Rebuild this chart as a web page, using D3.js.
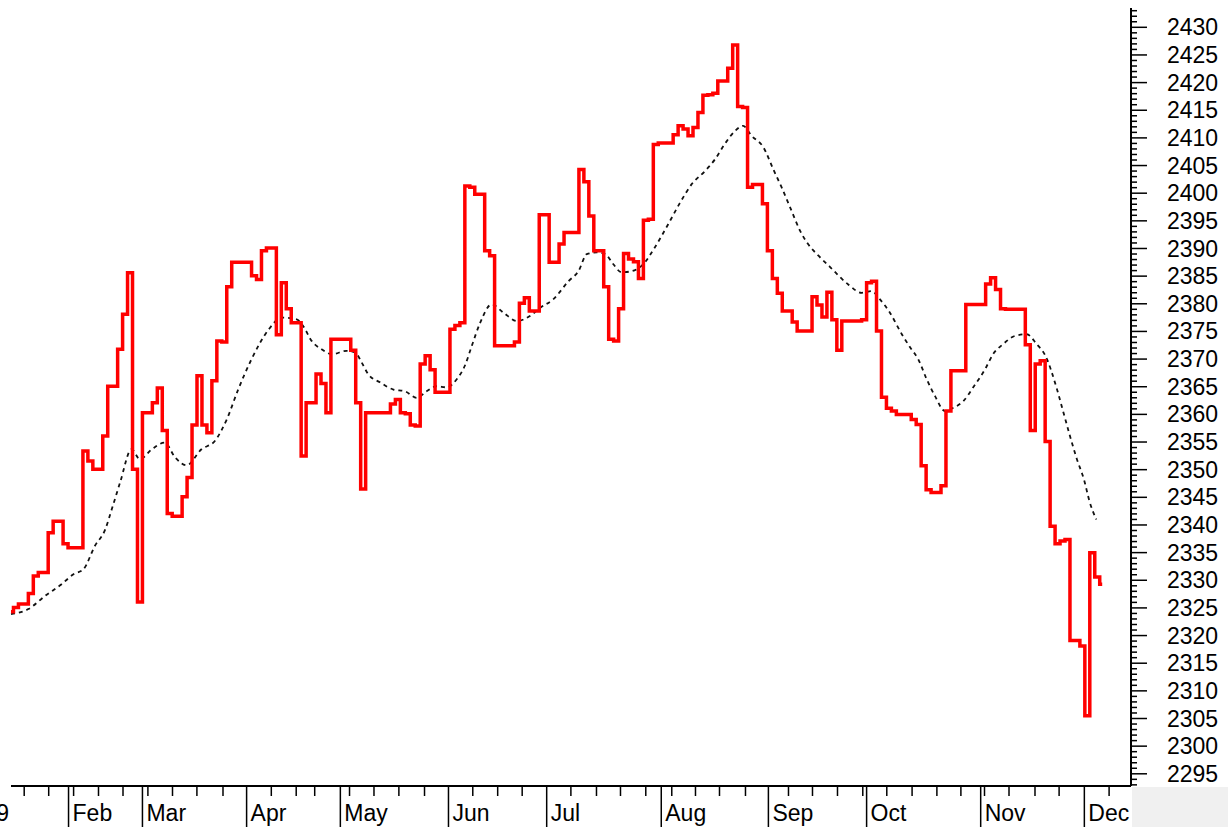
<!DOCTYPE html>
<html>
<head>
<meta charset="utf-8">
<script src="https://cdn.jsdelivr.net/npm/d3@7"></script>
<style>
	html, body { margin: 0; padding: 0; background: #fff; }
	svg { display: block; }
	text { font-family: "Liberation Sans", Arial, sans-serif; fill: #000; }
</style>
</head>
<body>
<div id="chart"></div>
<script>
// daily closes, one per trading day
var closes = [
	2324.2, 2325.0, 2325.6, 2325.6, 2327.5, 2330.7, 2331.3, 2331.3, 2338.5, 2340.6,
	2340.6, 2336.5, 2335.8, 2335.8, 2335.8, 2353.3, 2351.5, 2350.0, 2350.0, 2356.0,
	2365.0, 2365.0, 2371.7, 2378.0, 2385.5, 2350.0, 2326.0, 2360.2, 2360.2, 2362.0,
	2364.7, 2357.0, 2342.0, 2341.5, 2341.5, 2345.0, 2348.5, 2358.0, 2366.9, 2358.0,
	2356.6, 2366.0, 2373.2, 2373.0, 2383.0, 2387.4, 2387.4, 2387.4, 2387.4, 2385.0,
	2384.3, 2389.5, 2390.0, 2390.0, 2374.3, 2383.7, 2379.0, 2376.5, 2376.5, 2352.4,
	2362.0, 2362.0, 2367.2, 2365.5, 2360.2, 2373.5, 2373.5, 2373.5, 2373.5, 2371.5,
	2362.0, 2346.4, 2360.2, 2360.2, 2360.2, 2360.2, 2360.2, 2361.8, 2362.6, 2360.2,
	2360.0, 2358.0, 2357.8, 2369.0, 2370.5, 2368.0, 2363.9, 2363.9, 2363.9, 2375.3,
	2376.0, 2376.5, 2401.2, 2401.0, 2399.7, 2399.7, 2389.5, 2388.6, 2372.3, 2372.3,
	2372.3, 2372.3, 2373.0, 2380.0, 2381.0, 2378.6, 2378.6, 2396.0, 2396.0, 2387.4,
	2387.4, 2390.7, 2392.8, 2392.8, 2392.8, 2404.2, 2402.0, 2395.8, 2389.5, 2389.5,
	2383.0, 2373.5, 2373.2, 2379.0, 2389.0, 2388.0, 2387.5, 2384.5, 2395.0, 2395.2,
	2408.7, 2409.0, 2409.0, 2409.0, 2410.5, 2412.1, 2411.5, 2410.3, 2411.8, 2414.5,
	2417.6, 2417.7, 2418.0, 2420.2, 2420.2, 2422.5, 2426.7, 2415.6, 2415.4, 2401.0,
	2401.5, 2401.5, 2398.0, 2389.5, 2384.5, 2381.8, 2378.6, 2378.6, 2376.6, 2375.0,
	2375.0, 2375.0, 2381.2, 2379.7, 2377.5, 2382.0, 2377.0, 2371.5, 2376.8, 2376.8,
	2376.8, 2376.8, 2377.0, 2383.7, 2384.0, 2375.0, 2363.0, 2361.0, 2360.5, 2359.9,
	2359.9, 2359.9, 2359.0, 2358.1, 2350.6, 2346.3, 2345.8, 2345.8, 2347.0, 2360.5,
	2367.8, 2367.8, 2367.8, 2379.8, 2379.8, 2379.8, 2379.8, 2383.5, 2384.6, 2382.5,
	2379.0, 2378.9, 2378.9, 2378.9, 2378.9, 2372.5, 2357.0, 2369.0, 2369.6, 2355.0,
	2339.7, 2336.5, 2337.0, 2337.3, 2319.0, 2319.0, 2318.0, 2305.4, 2334.9, 2330.5,
	2329.2
];

// moving average (day index, value)
var avgDays = [
	0, 3.5, 6.9, 10.2, 12.6, 14.6, 16.9, 19, 20.3, 22, 24.3, 26, 28.4, 31, 33.1, 35.4,
	38.4, 41.1, 43.5, 45.8, 48.5, 51.9, 54.6, 57.6, 58.9, 60.6, 62.6, 64.7, 67.7, 69.4,
	70.7, 72, 74.4, 77.1, 79.4, 81.8, 83.8, 85.8, 87.8, 89.9, 91.5, 92.9, 94.6, 96.9,
	99.3, 102, 104.6, 106.7, 109.3, 112.4, 114.4, 116.1, 118.1, 119.8, 121.4, 123.1,
	125.1, 127.5, 129.8, 132.5, 134.9, 137.2, 139.9, 141.9, 143.9, 146, 147.6, 149.3,
	151.7, 153.7, 155.4, 157.1, 159.1, 160.7, 162.8, 165.1, 168.8, 171.5, 173.5, 175.2,
	177.2, 179.6, 181.3, 182.9, 184.6, 186.3, 188.3, 190, 192, 194, 196.4, 198, 200,
	202.4, 204.8, 206.8, 208.5, 210.9, 212.2, 213.5, 214.9, 216.3, 217.5, 218.8
];
var avgValues = [
	2323.8, 2324.7, 2327.1, 2329.2, 2331.0, 2331.9, 2336.1, 2339.1, 2342.7, 2347.6,
	2353.6, 2351.8, 2353.6, 2354.8, 2352.1, 2350.7, 2353.6, 2355.1, 2359.0, 2364.4,
	2369.9, 2375.2, 2377.4, 2377.1, 2375.9, 2373.2, 2371.7, 2370.8, 2371.4, 2371.1,
	2369.3, 2367.2, 2365.7, 2364.4, 2364.1, 2362.9, 2364.1, 2365.0, 2364.8, 2366.3,
	2368.7, 2372.3, 2376.5, 2379.8, 2378.3, 2376.8, 2377.7, 2379.2, 2380.7, 2384.0,
	2385.8, 2388.9, 2389.2, 2388.9, 2387.1, 2385.6, 2385.8, 2387.1, 2390.1, 2394.3,
	2398.2, 2401.5, 2403.9, 2406.0, 2408.8, 2411.2, 2412.1, 2410.3, 2408.2, 2404.2,
	2400.9, 2397.3, 2393.1, 2390.7, 2388.6, 2386.6, 2383.4, 2381.9, 2382.2, 2380.7,
	2378.3, 2374.4, 2372.0, 2369.9, 2366.3, 2363.2, 2360.5, 2361.1, 2362.3, 2364.8,
	2368.1, 2370.8, 2372.6, 2374.1, 2374.4, 2372.6, 2370.6, 2364.4, 2360.2, 2356.0,
	2351.8, 2348.2, 2344.0, 2340.9
];

var monthLabels = ["2009", "Feb", "Mar", "Apr", "May", "Jun", "Jul", "Aug", "Sep", "Oct", "Nov", "Dec"];
var monthStarts = [-11.6, 11.5, 26.4, 47.4, 66.3, 88.1, 107.9, 131, 152.6, 172.4, 195.4, 216.3];
var weekTicks = [
	2.56, 7.5, 12.52, 17.54, 22.48, 27.5, 32.46, 37.38, 42.64, 52.38, 57.4, 61.13,
	68.15, 73.08, 78.1, 83.27, 93, 98.02, 102.96, 112.78, 117.94, 122.78, 127.88,
	133.12, 137.9, 142.74, 147.98, 156.65, 161.49, 166.53, 171.63, 176.47, 181.57,
	186.57, 191.41, 196.17, 201.11, 206.35, 211.21, 221.29
];
var yLabels = d3.range(2295, 2431, 5);
var yMinor = d3.range(2293, 2434).filter(function(v) { return v % 5 !== 0; });

var width = 1228;
var height = 827;
var axisX = 1131;
var axisY = 786;

var x = d3.scaleLinear().domain([0, 220]).range([11, 1102.2]);
var y = d3.scaleLinear().domain([2430, 2295]).range([26.8, 773.3]);

var svg = d3.select("#chart")
	.append("svg")
	.attr("width", width)
	.attr("height", height);

svg.append("rect")
	.attr("width", width)
	.attr("height", height)
	.attr("fill", "#fff");

// moving average
svg.append("path")
	.datum(avgDays)
	.attr("fill", "none")
	.attr("stroke", "#111")
	.attr("stroke-width", 1.8)
	.attr("stroke-dasharray", "4,4")
	.attr("d", d3.line()
		.x(function(d) { return x(d); })
		.y(function(d, i) { return y(avgValues[i]); })
		.curve(d3.curveMonotoneX));

// closes
svg.append("path")
	.datum(closes)
	.attr("fill", "none")
	.attr("stroke", "#ff0000")
	.attr("stroke-width", 3.5)
	.attr("stroke-linejoin", "miter")
	.attr("stroke-miterlimit", 2)
	.attr("d", d3.line()
		.x(function(d, i) { return x(i); })
		.y(function(d) { return y(d); })
		.curve(d3.curveStep));

// right axis
var yMinorAxis = svg.append("g")
	.attr("transform", "translate(" + axisX + ",0)")
	.call(d3.axisRight(y).tickValues(yMinor).tickSize(6).tickSizeOuter(0).tickFormat(""));
yMinorAxis.select(".domain").remove();

var yAxis = svg.append("g")
	.attr("transform", "translate(" + axisX + ",0)")
	.call(d3.axisRight(y).tickValues(yLabels).tickSize(16).tickSizeOuter(0).tickPadding(20).tickFormat(d3.format("d")));
yAxis.select(".domain").remove();
yAxis.selectAll("text")
	.attr("font-size", 23)
	.attr("font-family", "'Liberation Sans', Arial, sans-serif")
	.attr("dy", "0.35em");

// bottom axis
var weekAxis = svg.append("g")
	.attr("transform", "translate(0," + axisY + ")")
	.call(d3.axisBottom(x).tickValues(weekTicks).tickSize(10).tickSizeOuter(0).tickFormat(""));
weekAxis.select(".domain").remove();

var monthAxis = svg.append("g")
	.attr("transform", "translate(0," + axisY + ")")
	.call(d3.axisBottom(x).tickValues(monthStarts).tickSize(45).tickSizeOuter(0)
		.tickFormat(function(d, i) { return monthLabels[i]; }));
monthAxis.select(".domain").remove();
monthAxis.selectAll("text")
	.attr("font-size", 23)
	.attr("font-family", "'Liberation Sans', Arial, sans-serif")
	.attr("text-anchor", "start")
	.attr("x", 4)
	.attr("y", 35)
	.attr("dy", 0);

svg.selectAll(".tick line")
	.attr("stroke", "#000")
	.attr("stroke-width", 1.5);

// axis lines
svg.append("line")
	.attr("x1", 11).attr("x2", axisX)
	.attr("y1", axisY).attr("y2", axisY)
	.attr("stroke", "#000").attr("stroke-width", 2);
svg.append("line")
	.attr("x1", axisX).attr("x2", axisX)
	.attr("y1", 8).attr("y2", axisY)
	.attr("stroke", "#000").attr("stroke-width", 2);

svg.append("rect")
	.attr("x", axisX + 1)
	.attr("y", axisY + 1)
	.attr("width", width - axisX - 1)
	.attr("height", height - axisY - 1)
	.attr("fill", "#f0f0f0");
</script>
</body>
</html>
